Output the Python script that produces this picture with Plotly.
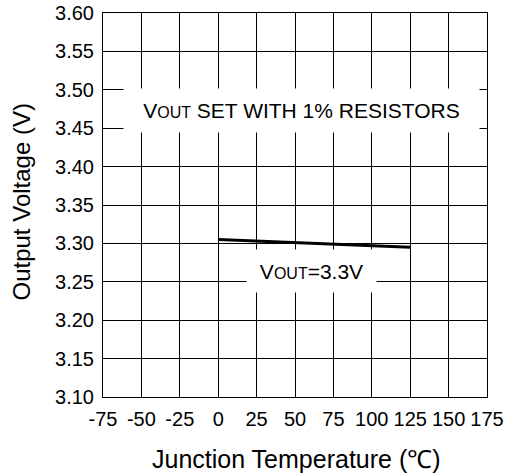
import plotly.graph_objects as go

temps = [0, 25, 50, 75, 100, 125]
vout = [3.305, 3.303, 3.301, 3.299, 3.297, 3.295]

x_ticks = [-75, -50, -25, 0, 25, 50, 75, 100, 125, 150, 175]
y_ticks = [3.10, 3.15, 3.20, 3.25, 3.30, 3.35, 3.40, 3.45, 3.50, 3.55, 3.60]

FONT = "Liberation Sans, Arial, sans-serif"

fig = go.Figure()
fig.add_trace(go.Scatter(x=temps, y=vout, mode="lines",
                         line=dict(color="black", width=3), showlegend=False, cliponaxis=False))

axis_common = dict(showgrid=True, gridcolor="black", gridwidth=1,
                   showline=True, linecolor="black", linewidth=1, mirror=True,
                   zeroline=False, ticks="", automargin=False,
                   tickfont=dict(size=20, color="black", family=FONT))

fig.update_xaxes(range=[-75, 175], tickvals=x_ticks, ticktext=[str(v) for v in x_ticks],
                 ticklabelstandoff=4, **axis_common)
fig.update_yaxes(range=[3.10, 3.60], tickvals=y_ticks, ticktext=[f"{v:.2f}" for v in y_ticks],
                 ticklabelstandoff=4, **axis_common)

fig.add_annotation(x=54.2, y=3.4735, xref="x", yref="y", showarrow=False,
                   text="V<span style='font-size:16px'>OUT</span> SET WITH 1% RESISTORS",
                   font=dict(size=21, color="black", family=FONT),
                   bgcolor="white", width=353, height=41)
fig.add_annotation(x=60.7, y=3.264, xref="x", yref="y", showarrow=False,
                   text="V<span style='font-size:16px'>OUT</span>=3.3V",
                   font=dict(size=21, color="black", family=FONT),
                   bgcolor="white", width=127, height=40)

# axis titles
fig.add_annotation(x=0.503, y=-0.161, xref="paper", yref="paper", showarrow=False,
                   xanchor="center", yanchor="middle",
                   text="Junction Temperature (℃)",
                   font=dict(size=25, color="black", family=FONT))
fig.add_annotation(x=-0.211, y=0.509, xref="paper", yref="paper", showarrow=False,
                   xanchor="center", yanchor="middle", textangle=-90,
                   text="Output Voltage (V)",
                   font=dict(size=24, color="black", family=FONT))

fig.update_layout(width=508, height=476, margin=dict(l=103, r=21, t=13, b=79),
                  plot_bgcolor="white", paper_bgcolor="white",
                  font=dict(family=FONT, color="black"))

# remove the default 8px page margin so the figure fills the window
fig.write_html("out.html", config={"displayModeBar": False},
               post_script="document.body.style.margin='0';document.body.style.overflow='hidden';")
